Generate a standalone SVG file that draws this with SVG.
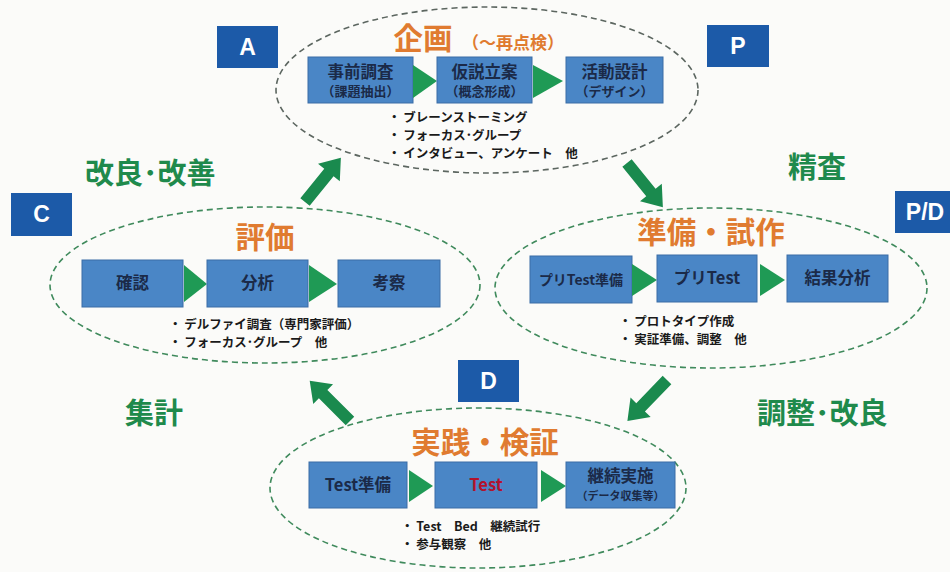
<svg xmlns="http://www.w3.org/2000/svg" width="950" height="572" viewBox="0 0 950 572">
<defs>
<style>
.bg{fill:#fbfbf9}
.lbl{fill:#1c5aa8}
.lbltx{font-family:"Liberation Sans",Arial,sans-serif;font-weight:bold;font-size:23px;fill:#ffffff;text-anchor:middle}
.ell{fill:none;stroke:#3f8a5c;stroke-width:1.6;stroke-dasharray:6 4}
.ellg{fill:none;stroke:#5c6660;stroke-width:1.6;stroke-dasharray:6 4}
.box{fill:#4a86c6;stroke:#3a6da6;stroke-width:1}
.bt{font-family:"Noto Sans CJK JP","Liberation Sans",sans-serif;font-weight:bold;font-size:16.5px;fill:#1b2a48;text-anchor:middle}
.bs{font-family:"Noto Sans CJK JP","Liberation Sans",sans-serif;font-weight:bold;font-size:13px;fill:#1b2a48;text-anchor:middle}
.title{font-family:"Noto Sans CJK JP",sans-serif;font-weight:bold;font-size:29.5px;fill:#e07b30;text-anchor:middle}
.titles{font-family:"Noto Sans CJK JP",sans-serif;font-weight:bold;font-size:17px;fill:#e07b30}
.bul{font-family:"Noto Sans CJK JP","Liberation Sans",sans-serif;font-weight:bold;font-size:12.5px;fill:#1a1a1a}
.gl{font-family:"Noto Sans CJK JP",sans-serif;font-weight:bold;font-size:29px;fill:#1f8a4c}
.tri{fill:#1f9a55}
.arr{fill:#1a8a4e}
</style>
<path id="barrow" d="M0,-6 L38,-6 L38,-14 L57,0 L38,14 L38,6 L0,6 Z"/>
</defs>
<rect class="bg" x="0" y="0" width="950" height="572"/>

<g id="connectors">
<use href="#barrow" class="arr" transform="translate(305,202) rotate(-51)"/>
<use href="#barrow" class="arr" transform="translate(627,163) rotate(51)"/>
<use href="#barrow" class="arr" transform="translate(350,421) rotate(-135)"/>
<use href="#barrow" class="arr" transform="translate(667,380) rotate(134)"/>
</g>

<g id="labels">
<g id="label-A"><rect class="lbl" x="217" y="26" width="61" height="42"/><text class="lbltx" x="247.5" y="55">A</text></g>
<g id="label-P"><rect class="lbl" x="707" y="25" width="62" height="42"/><text class="lbltx" x="738" y="54">P</text></g>
<g id="label-C"><rect class="lbl" x="11" y="193" width="61" height="43"/><text class="lbltx" x="41.5" y="222">C</text></g>
<g id="label-PD"><rect class="lbl" x="895" y="191" width="60" height="42"/><text class="lbltx" x="925" y="220">P/D</text></g>
<g id="label-D"><rect class="lbl" x="458" y="360" width="61" height="42"/><text class="lbltx" x="488.5" y="389">D</text></g>
</g>

<g id="edge-labels">
<text class="gl" x="85" y="184">改良･改善</text>
<text class="gl" x="788" y="178">精査</text>
<text class="gl" x="125" y="424">集計</text>
<text class="gl" x="757" y="424">調整･改良</text>
</g>

<g id="node-plan">
<ellipse class="ellg" cx="487" cy="90" rx="211" ry="83"/>
<text class="title" x="423" y="49">企画</text>
<text class="titles" x="462" y="49">（～再点検）</text>
<rect class="box" x="308" y="57" width="105" height="46"/>
<text class="bt" x="360.5" y="78">事前調査</text>
<text class="bs" x="360.5" y="96">（課題抽出）</text>
<polygon class="tri" points="413,65 437,81 413,98"/>
<rect class="box" x="437" y="57" width="95" height="46"/>
<text class="bt" x="484.5" y="78">仮説立案</text>
<text class="bs" x="484.5" y="96">（概念形成）</text>
<polygon class="tri" points="533,65 563,81 533,98"/>
<rect class="box" x="566" y="57" width="97" height="46"/>
<text class="bt" x="614.5" y="78">活動設計</text>
<text class="bs" x="614.5" y="96">（デザイン）</text>
<text class="bul" x="388" y="122">・ ブレーンストーミング</text>
<text class="bul" x="388" y="140">・ フォーカス･グループ</text>
<text class="bul" x="388" y="158">・ インタビュー、アンケート　他</text>
</g>

<g id="node-evaluate">
<ellipse class="ell" cx="265" cy="285" rx="215" ry="78"/>
<text class="title" x="265" y="248">評価</text>
<rect class="box" x="82" y="260" width="101" height="47"/>
<text class="bt" x="132.5" y="289">確認</text>
<polygon class="tri" points="184,265 207,284 184,302"/>
<rect class="box" x="207" y="260" width="101" height="47"/>
<text class="bt" x="257.5" y="289">分析</text>
<polygon class="tri" points="309,265 337,284 309,302"/>
<rect class="box" x="338" y="260" width="102" height="47"/>
<text class="bt" x="389" y="289">考察</text>
<text class="bul" x="169" y="329">・ デルファイ調査（専門家評価）</text>
<text class="bul" x="169" y="347">・ フォーカス･グループ　他</text>
</g>

<g id="node-prepare">
<ellipse class="ell" cx="711" cy="288" rx="216" ry="80"/>
<text class="title" x="711" y="243">準備・試作</text>
<rect class="box" x="530" y="256" width="102" height="47"/>
<text class="bt" x="581" y="285" style="font-size:14px">プリTest準備</text>
<polygon class="tri" points="632,264 657,280 632,296"/>
<rect class="box" x="657" y="255" width="100" height="47"/>
<text class="bt" x="707" y="284">プリTest</text>
<polygon class="tri" points="760,264 785,280 760,296"/>
<rect class="box" x="787" y="255" width="101" height="47"/>
<text class="bt" x="837.5" y="284">結果分析</text>
<text class="bul" x="619" y="326">・ プロトタイプ作成</text>
<text class="bul" x="619" y="344">・ 実証準備、調整　他</text>
</g>

<g id="node-practice">
<ellipse class="ell" cx="478" cy="488" rx="208" ry="80"/>
<text class="title" x="485" y="453">実践・検証</text>
<rect class="box" x="309" y="462" width="98" height="46"/>
<text class="bt" x="358" y="491">Test準備</text>
<polygon class="tri" points="409,470 433,486 409,502"/>
<rect class="box" x="435" y="462" width="102" height="46"/>
<text class="bt" x="486" y="491" style="fill:#b3122c">Test</text>
<polygon class="tri" points="541,470 566,486 541,502"/>
<rect class="box" x="566" y="462" width="109" height="46"/>
<text class="bt" x="620.5" y="482">継続実施</text>
<text class="bs" x="620.5" y="500" style="font-size:11px">（データ収集等）</text>
<text class="bul" x="401" y="531">・ Test　Bed　継続試行</text>
<text class="bul" x="401" y="549">・ 参与観察　他</text>
</g>
</svg>
